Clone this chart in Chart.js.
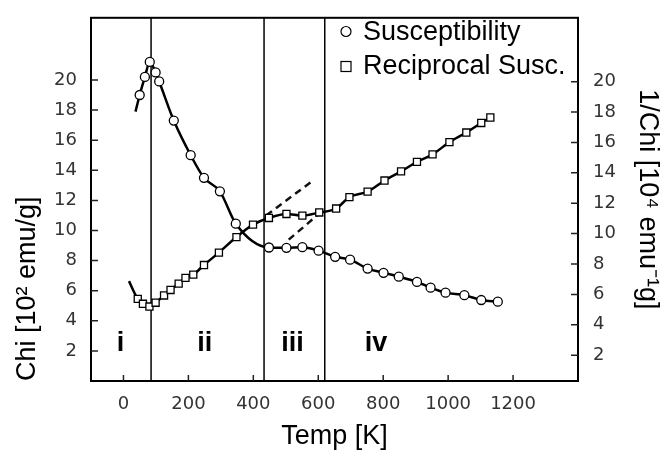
<!DOCTYPE html>
<html>
<head>
<meta charset="utf-8">
<script src="https://cdn.jsdelivr.net/npm/chart.js@4.4.0/dist/chart.umd.min.js"></script>
<style>
  body { margin: 0; background: #fff; }
</style>
</head>
<body>
<canvas id="chart" width="661" height="457"></canvas>
<script>
// Susceptibility (circles, left axis)
const chiTemps = [37, 50, 66, 81, 99, 110, 155, 207, 248, 297, 346, 448, 502, 551, 601, 652, 698, 752, 801, 848, 904, 946, 992, 1050, 1102, 1153];
const chiValues = [17.9, 19.0, 20.2, 21.2, 20.5, 19.9, 17.3, 15.0, 13.5, 12.6, 10.45, 8.87, 8.85, 8.89, 8.66, 8.25, 8.06, 7.47, 7.19, 6.93, 6.58, 6.2, 5.87, 5.7, 5.38, 5.27];

// Reciprocal susceptibility (squares, right axis)
const recipTemps = [17, 44, 60, 80, 99, 125, 145, 170, 191, 215, 248, 294, 348, 399, 448, 502, 551, 603, 655, 696, 752, 804, 855, 904, 952, 1004, 1056, 1102, 1130];
const recipValues = [6.87, 5.7, 5.38, 5.2, 5.45, 5.93, 6.29, 6.71, 7.09, 7.3, 7.93, 8.75, 9.77, 10.59, 11.03, 11.29, 11.18, 11.39, 11.65, 12.4, 12.76, 13.49, 14.09, 14.72, 15.21, 16.02, 16.65, 17.28, 17.64];

// dashed extrapolations (right axis)
const dash1Temps = [440, 578];
const dash1Values = [11.2, 13.4];
const dash2Temps = [509, 605];
const dash2Values = [9.6, 11.35];

// region boundaries and labels
const boundaryTemps = [85, 433, 620];
const regionNames = ['i', 'ii', 'iii', 'iv'];
const regionTemps = [-9, 250, 521, 778];

// tick labels
const xTickValues = [0, 200, 400, 600, 800, 1000, 1200];
const leftTickValues = [2, 4, 6, 8, 10, 12, 14, 16, 18, 20];
const rightTickValues = [2, 4, 6, 8, 10, 12, 14, 16, 18, 20];

const toPoints = (xs, ys) => xs.map((x, i) => ({ x: x, y: ys[i] }));
const firstHidden = (n, r) => Array.from({ length: n }, (_, i) => (i === 0 ? 0 : r));

const datasets = [
  {
    label: 'Susceptibility',
    data: toPoints(chiTemps, chiValues),
    yAxisID: 'y',
    borderColor: '#000',
    borderWidth: 2.5,
    pointStyle: 'circle',
    pointRadius: firstHidden(chiTemps.length, 4.5),
    pointBackgroundColor: '#fff',
    pointBorderColor: '#000',
    pointBorderWidth: 1.3,
    cubicInterpolationMode: 'monotone'
  },
  {
    label: 'Reciprocal Susc.',
    data: toPoints(recipTemps, recipValues),
    yAxisID: 'y2',
    borderColor: '#000',
    borderWidth: 2.5,
    pointStyle: 'rect',
    pointRadius: firstHidden(recipTemps.length, 5),
    pointBackgroundColor: '#fff',
    pointBorderColor: '#000',
    pointBorderWidth: 1.3,
    cubicInterpolationMode: 'monotone'
  },
  {
    data: toPoints(dash1Temps, dash1Values),
    yAxisID: 'y2',
    borderColor: '#111',
    borderWidth: 2.5,
    borderDash: [7, 5],
    pointRadius: 0
  },
  {
    data: toPoints(dash2Temps, dash2Values),
    yAxisID: 'y2',
    borderColor: '#111',
    borderWidth: 2.5,
    borderDash: [7, 5],
    pointRadius: 0
  }
];

// vertical region separators
boundaryTemps.forEach(t => {
  datasets.push({
    data: [{ x: t, y: 0 }, { x: t, y: 24.13 }],
    yAxisID: 'y',
    borderColor: '#000',
    borderWidth: 1.5,
    pointRadius: 0
  });
});

const tickFont = { family: 'DejaVu Sans', size: 18 };
const titleFont = { family: 'Liberation Sans', size: 27, lineHeight: 1 };
const plainLabel = v => String(v);

// frame, inward ticks, legend and region labels
const decorations = {
  id: 'decorations',
  afterDraw(chart) {
    const { ctx, chartArea: a, scales } = chart;
    ctx.save();
    ctx.strokeStyle = '#000';
    ctx.lineWidth = 2;
    ctx.strokeRect(a.left, a.top, a.right - a.left, a.bottom - a.top);

    ctx.lineWidth = 1.5;
    ctx.strokeStyle = '#222';
    ctx.beginPath();
    xTickValues.forEach(v => {
      const px = scales.x.getPixelForValue(v);
      ctx.moveTo(px, a.bottom);
      ctx.lineTo(px, a.bottom - 6);
    });
    leftTickValues.forEach(v => {
      const py = scales.y.getPixelForValue(v);
      ctx.moveTo(a.left, py);
      ctx.lineTo(a.left + 7, py);
    });
    rightTickValues.forEach(v => {
      const py = scales.y2.getPixelForValue(v);
      ctx.moveTo(a.right, py);
      ctx.lineTo(a.right - 7, py);
    });
    ctx.stroke();

    // region labels
    ctx.fillStyle = '#000';
    ctx.font = 'bold 27px "Liberation Sans"';
    ctx.textAlign = 'center';
    ctx.textBaseline = 'alphabetic';
    const labelY = scales.y.getPixelForValue(2);
    regionNames.forEach((name, i) => {
      ctx.fillText(name, scales.x.getPixelForValue(regionTemps[i]), labelY);
    });

    // legend
    ctx.lineWidth = 1.2;
    ctx.strokeStyle = '#000';
    ctx.beginPath();
    ctx.arc(346, 31.5, 5, 0, Math.PI * 2);
    ctx.stroke();
    ctx.strokeRect(341, 61.5, 10, 10);
    ctx.font = '27px "Liberation Sans"';
    ctx.textAlign = 'left';
    ctx.fillText('Susceptibility', 363, 40);
    ctx.fillText('Reciprocal Susc.', 363, 73.5);
    ctx.restore();
  }
};

new Chart(document.getElementById('chart').getContext('2d'), {
  type: 'line',
  data: { datasets: datasets },
  plugins: [decorations],
  options: {
    responsive: false,
    animation: false,
    layout: { padding: { top: 2, left: 0, right: 0, bottom: 0 } },
    plugins: {
      legend: { display: false },
      tooltip: { enabled: false }
    },
    scales: {
      x: {
        type: 'linear',
        position: 'bottom',
        min: -100,
        max: 1400,
        afterBuildTicks: s => { s.ticks = xTickValues.map(v => ({ value: v })); },
        afterFit: s => { s.height = 76; },
        grid: { display: false },
        border: { display: false },
        ticks: { font: tickFont, color: '#333', padding: 5, maxRotation: 0, callback: plainLabel },
        title: { display: true, text: 'Temp [K]', font: titleFont, color: '#000', padding: { top: 0, bottom: 6.5 } }
      },
      y: {
        type: 'linear',
        position: 'left',
        min: 0,
        max: 24.13,
        afterBuildTicks: s => { s.ticks = leftTickValues.map(v => ({ value: v })); },
        afterFit: s => { s.width = 91; },
        grid: { display: false },
        border: { display: false },
        ticks: { font: tickFont, color: '#333', padding: 6, callback: plainLabel },
        title: { display: true, text: 'Chi [10² emu/g]', align: 'start', font: titleFont, color: '#000', padding: { top: 14.5, bottom: 0 } }
      },
      y2: {
        type: 'linear',
        position: 'right',
        min: 0.3,
        max: 24.2,
        afterBuildTicks: s => { s.ticks = rightTickValues.map(v => ({ value: v })); },
        afterFit: s => { s.width = 83; },
        grid: { display: false },
        border: { display: false },
        ticks: { font: tickFont, color: '#333', padding: 7, callback: plainLabel },
        title: { display: true, text: '1/Chi [10⁴ emu⁻¹g]', font: titleFont, color: '#000', padding: { top: 0, bottom: 0 } }
      }
    }
  }
});
</script>
</body>
</html>
